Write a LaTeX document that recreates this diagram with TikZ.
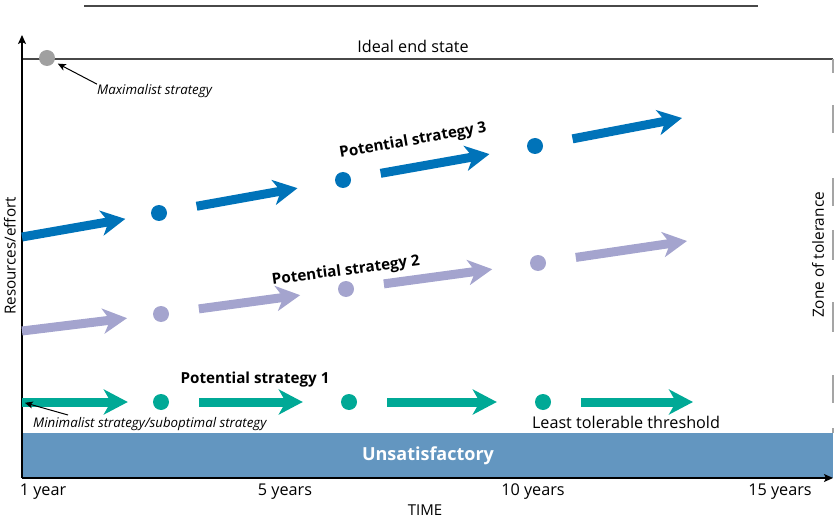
\documentclass[tikz,border=0pt]{standalone}
\usepackage{fontspec}
\setmainfont{Open Sans}
\usetikzlibrary{arrows.meta}

\definecolor{stratblue}{RGB}{0,115,185}
\definecolor{stratlav}{RGB}{164,164,206}
\definecolor{stratteal}{RGB}{0,169,150}
\definecolor{bandblue}{RGB}{99,150,192}
\definecolor{linegray}{RGB}{72,72,72}
\definecolor{dotgray}{RGB}{160,160,160}
\definecolor{zonegray}{RGB}{165,165,165}

\tikzset{
  milestone/.style={circle, inner sep=0pt, minimum size=16pt},
  fat/.style={line width=9pt, -{Stealth[length=24pt,width=25pt,inset=7pt]},
    shorten <=30pt, shorten >=38pt},
  axis/.style={line width=1.2pt, -{Stealth[length=9pt,width=8pt,inset=2pt]}},
  pointer/.style={line width=1pt, -{Stealth[length=8pt,width=7pt,inset=2pt]}},
  lbl/.style={font=\fontsize{16.2}{19}\selectfont},
  note/.style={font=\fontsize{13.3}{16}\selectfont\itshape, inner sep=0pt},
  stratlbl/.style={font=\fontsize{15.2}{18}\selectfont\bfseries}
}

\begin{document}
\begin{tikzpicture}[x=1pt, y=-1pt]
\useasboundingbox (0,0) rectangle (837,521);

\draw[line width=1.5pt, linegray] (84,6) -- (758,6);

% unsatisfactory band
\fill[bandblue] (22,433) rectangle (833,478);
\node[font=\fontsize{18}{21}\selectfont\bfseries, text=white] (unsat) at (428,456) {Unsatisfactory};

% ideal end state and zone of tolerance
\draw[line width=1.5pt, linegray] (22,59) -- (833,59);
\node[lbl] (ideal) at (413,46) {Ideal end state};
\draw[line width=2.5pt, zonegray, dash pattern=on 14pt off 32pt on 28pt off 45pt on 28pt off 24pt on 30pt off 42pt on 30pt off 43pt on 28pt off 25pt on 5pt] (833,59) -- (833,433);
\node[rotate=90, font=\fontsize{15.4}{18}\selectfont] (zone) at (818,255) {Zone of tolerance};

% axes
\coordinate (origin) at (22,478);
\draw[axis] (origin) -- (22,35);
\draw[axis] (origin) -- (833,478);
\node[rotate=90, font=\fontsize{15.2}{18}\selectfont] (yaxis) at (10,256) {Resources/effort};
\node[lbl] (y1) at (43,492) {1 year};
\node[lbl] (y5) at (285,492) {5 years};
\node[lbl] (y10) at (533,492) {10 years};
\node[lbl] (y15) at (780,492) {15 years};
\node[font=\fontsize{15}{18}\selectfont] (time) at (425,510) {TIME};

% maximalist
\node[milestone, fill=dotgray] (maxdot) at (47,58) {};
\node[note, anchor=west] (maxlabel) at (97,91) {Maximalist strategy};
\draw[pointer, shorten >=4pt] (maxlabel.north west) -- (maxdot);

% strategy 3
\coordinate (b0) at (22,237);
\node[milestone, fill=stratblue] (b1) at (159,213) {};
\node[milestone, fill=stratblue] (b2) at (343,180) {};
\node[milestone, fill=stratblue] (b3) at (535,146) {};
\coordinate (b4) at (682,118);
\draw[fat, stratblue, shorten <=0pt, shorten >=26pt] (b0) -- (b1);
\draw[fat, stratblue] (b1) -- (b2);
\draw[fat, stratblue] (b2) -- (b3);
\draw[fat, stratblue, shorten >=0pt] (b3) -- (b4);
\node[stratlbl, rotate=10] (s3) at (413,141) {Potential strategy 3};

% strategy 2
\coordinate (l0) at (22,331);
\node[milestone, fill=stratlav] (l1) at (161,314) {};
\node[milestone, fill=stratlav] (l2) at (346,289) {};
\node[milestone, fill=stratlav] (l3) at (538,263) {};
\coordinate (l4) at (687,241);
\draw[fat, stratlav, shorten <=0pt, shorten >=26pt] (l0) -- (l1);
\draw[fat, stratlav] (l1) -- (l2);
\draw[fat, stratlav] (l2) -- (l3);
\draw[fat, stratlav, shorten >=0pt] (l3) -- (l4);
\node[stratlbl, rotate=7.5] (s2) at (346,271) {Potential strategy 2};

% strategy 1
\coordinate (t0) at (22,402);
\node[milestone, fill=stratteal] (t1) at (161,402) {};
\node[milestone, fill=stratteal] (t2) at (349,402) {};
\node[milestone, fill=stratteal] (t3) at (543,402) {};
\coordinate (t4) at (693,402);
\draw[fat, stratteal, shorten <=0pt, shorten >=25pt] (t0) -- (t1);
\draw[fat, stratteal] (t1) -- (t2);
\draw[fat, stratteal] (t2) -- (t3);
\draw[fat, stratteal, shorten >=0pt] (t3) -- (t4);
\node[stratlbl] (s1) at (255,380) {Potential strategy 1};
\node[lbl] (least) at (626,422) {Least tolerable threshold};

% minimalist
\node[note, anchor=west] (minlabel) at (33,424) {Minimalist strategy/suboptimal strategy};
\coordinate (minfrom) at (68,415);
\draw[pointer, shorten >=3pt] (minfrom) -- (t0);
\end{tikzpicture}
\end{document}
